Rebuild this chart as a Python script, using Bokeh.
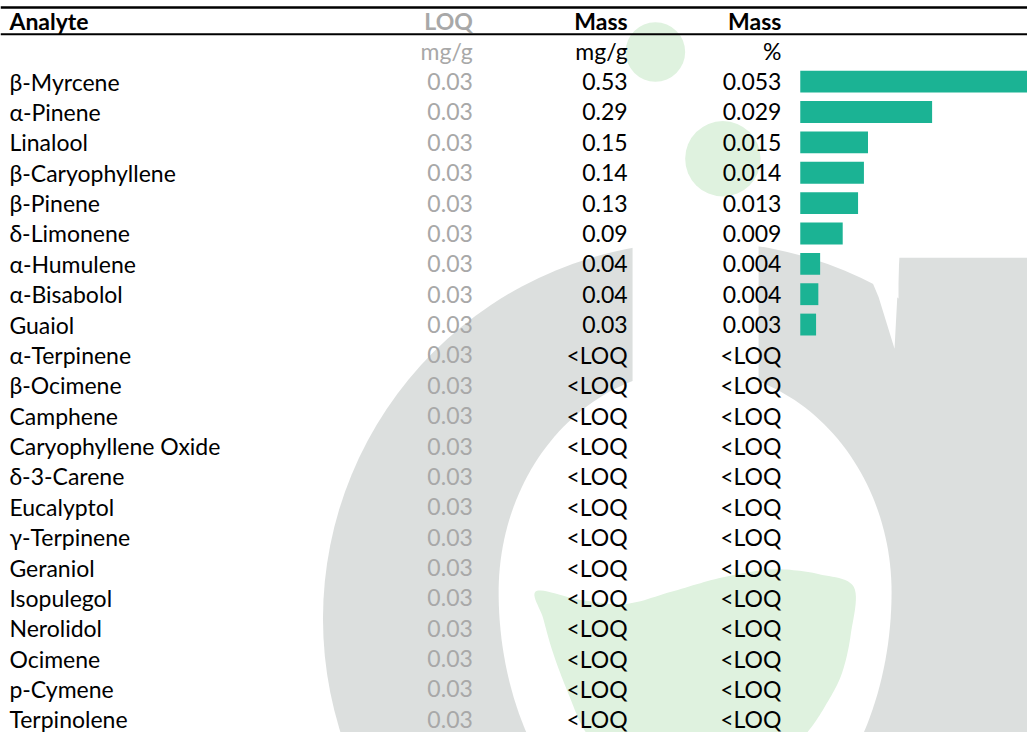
import numpy as np
from bokeh.plotting import figure
from bokeh.models import Range1d, ColumnDataSource
from bokeh.core.properties import value
from bokeh.embed import file_html
from bokeh.resources import INLINE

# ---------------- data ----------------
analytes = ["β-Myrcene", "α-Pinene", "Linalool", "β-Caryophyllene", "β-Pinene",
            "δ-Limonene", "α-Humulene", "α-Bisabolol", "Guaiol", "α-Terpinene",
            "β-Ocimene", "Camphene", "Caryophyllene Oxide", "δ-3-Carene",
            "Eucalyptol", "γ-Terpinene", "Geraniol", "Isopulegol", "Nerolidol",
            "Ocimene", "p-Cymene", "Terpinolene"]
loq_mg_g = [0.03, 0.03, 0.03, 0.03, 0.03, 0.03, 0.03, 0.03, 0.03, 0.03, 0.03,
            0.03, 0.03, 0.03, 0.03, 0.03, 0.03, 0.03, 0.03, 0.03, 0.03, 0.03]
mass_mg_g = [0.53, 0.29, 0.15, 0.14, 0.13, 0.09, 0.04, 0.04, 0.03,
             None, None, None, None, None, None, None, None, None, None, None, None, None]
mass_pct = [0.053, 0.029, 0.015, 0.014, 0.013, 0.009, 0.004, 0.004, 0.003,
            None, None, None, None, None, None, None, None, None, None, None, None, None]
# bar lengths (unrounded % values)
bar_pct = [0.0530, 0.0292, 0.0150, 0.0141, 0.0128, 0.0094, 0.0044, 0.0040, 0.0035]

header_labels = ["Analyte", "LOQ", "Mass", "Mass"]
unit_labels = ["", "mg/g", "mg/g", "%"]

# ---------------- layout / style ----------------
W, H = 1027, 732            # canvas size
RW, RH = 1035, 740          # design space (px)
FONT = value("Lato")
FS = "23px"
GREY_TXT = "#a8a8a8"
BAR_C = "#1bb394"
WM_GREY = "#dcdfde"
WM_GREEN = "#dff2df"
col_x = [9, 476, 632, 787]
col_align = ["left", "right", "right", "right"]
col_color = ["#000000", GREY_TXT, "#000000", "#000000"]
row0_px, pitch = 82.0, 30.7
bar_left_px, px_per_pct = 806, 4550.0

y_top = (0 - row0_px) / pitch
y_bot = (RH - row0_px) / pitch

p = figure(width=W, height=H, output_backend="svg", toolbar_location=None,
           x_range=Range1d(0, RW), y_range=Range1d(y_bot, y_top),
           min_border=0, min_border_left=0, min_border_right=0,
           min_border_top=0, min_border_bottom=0)
p.extra_y_ranges = {"px": Range1d(RH, 0)}
p.extra_x_ranges = {"bar": Range1d(-bar_left_px / px_per_pct, (RW - bar_left_px) / px_per_pct)}
p.xaxis.visible = False
p.yaxis.visible = False
p.grid.visible = False
p.outline_line_color = None
p.background_fill_color = "white"
p.border_fill_color = "white"


def smooth_closed(xs, ys, n=12):
    """Catmull-Rom spline through a closed list of outline points (decoration)."""
    P = np.column_stack([xs, ys]).astype(float)
    m = len(P)
    out = []
    for i in range(m):
        p0, p1, p2, p3 = P[i - 1], P[i], P[(i + 1) % m], P[(i + 2) % m]
        for t in np.linspace(0, 1, n, endpoint=False):
            t2, t3 = t * t, t * t * t
            out.append(0.5 * ((2 * p1) + (-p0 + p2) * t + (2 * p0 - 5 * p1 + 4 * p2 - p3) * t2
                              + (-p0 + 3 * p1 - 3 * p2 + p3) * t3))
    out = np.array(out)
    return out[:, 0], out[:, 1]


# ---------------- watermark (decoration) ----------------
p.circle(x=[705], y=[625], radius=380, fill_color=WM_GREY, line_color=None, y_range_name="px")
p.quad(left=[905], right=[1045], top=[260], bottom=[760], fill_color=WM_GREY, line_color=None, y_range_name="px")
t = np.linspace(0, 2 * np.pi, 200)
hx = 700 + 198 * np.cos(t)
hy = 598 + np.where(np.sin(t) < 0, 225, 277) * np.sin(t)
p.patch(x=hx, y=hy, fill_color="white", line_color=None, y_range_name="px")
p.quad(left=[637], right=[764], top=[200], bottom=[460], fill_color="white", line_color=None, y_range_name="px")
p.patch(x=[860, 906, 906, 901, 885], y=[240, 240, 258, 352, 300], fill_color="white", line_color=None, y_range_name="px")
p.circle(x=[660, 728], y=[52, 160], radius=[30, 38], fill_color=WM_GREEN, line_color=None, y_range_name="px")
cup_x = [540, 585, 630, 675, 720, 760, 787, 825, 860, 857, 848, 833, 813, 780, 700, 620, 590, 572, 557, 547]
cup_y = [597, 606, 610, 598, 585, 577, 575, 580, 593, 640, 680, 710, 740, 775, 790, 775, 740, 700, 660, 625]
sx, sy = smooth_closed(cup_x, cup_y)
p.patch(x=sx, y=sy, fill_color=WM_GREEN, line_color=None, y_range_name="px")

# ---------------- rules ----------------
p.segment(x0=[0], x1=[RW], y0=[7], y1=[7], line_color="black", line_width=2.5, y_range_name="px")
p.segment(x0=[0], x1=[RW], y0=[34], y1=[34], line_color="black", line_width=2, y_range_name="px")

# ---------------- bars ----------------
rows = list(range(len(analytes)))
bsrc = ColumnDataSource(dict(y=rows[:len(bar_pct)], right=bar_pct))
p.hbar(y="y", left=0, right="right", height=0.72, source=bsrc,
       fill_color=BAR_C, line_color=None, x_range_name="bar")

# ---------------- text ----------------
def fmt(v, nd):
    return "<LOQ" if v is None else f"{v:.{nd}f}"

columns = [analytes,
           [fmt(v, 2) for v in loq_mg_g],
           [fmt(v, 2) for v in mass_mg_g],
           [fmt(v, 3) for v in mass_pct]]

for c in range(4):
    p.text(x=[col_x[c]] * len(rows), y=rows, text=columns[c],
           text_font=FONT, text_font_size=FS, text_color=col_color[c],
           text_align=col_align[c], text_baseline="middle")
    p.text(x=[col_x[c]], y=[-2], text=[header_labels[c]],
           text_font=FONT, text_font_size=FS, text_font_style="bold",
           text_color=col_color[c], text_align=col_align[c], text_baseline="middle")
    if unit_labels[c]:
        p.text(x=[col_x[c]], y=[-1], text=[unit_labels[c]],
               text_font=FONT, text_font_size=FS, text_color=col_color[c],
               text_align=col_align[c], text_baseline="middle")

open("out.html", "w").write(file_html(p, INLINE))
